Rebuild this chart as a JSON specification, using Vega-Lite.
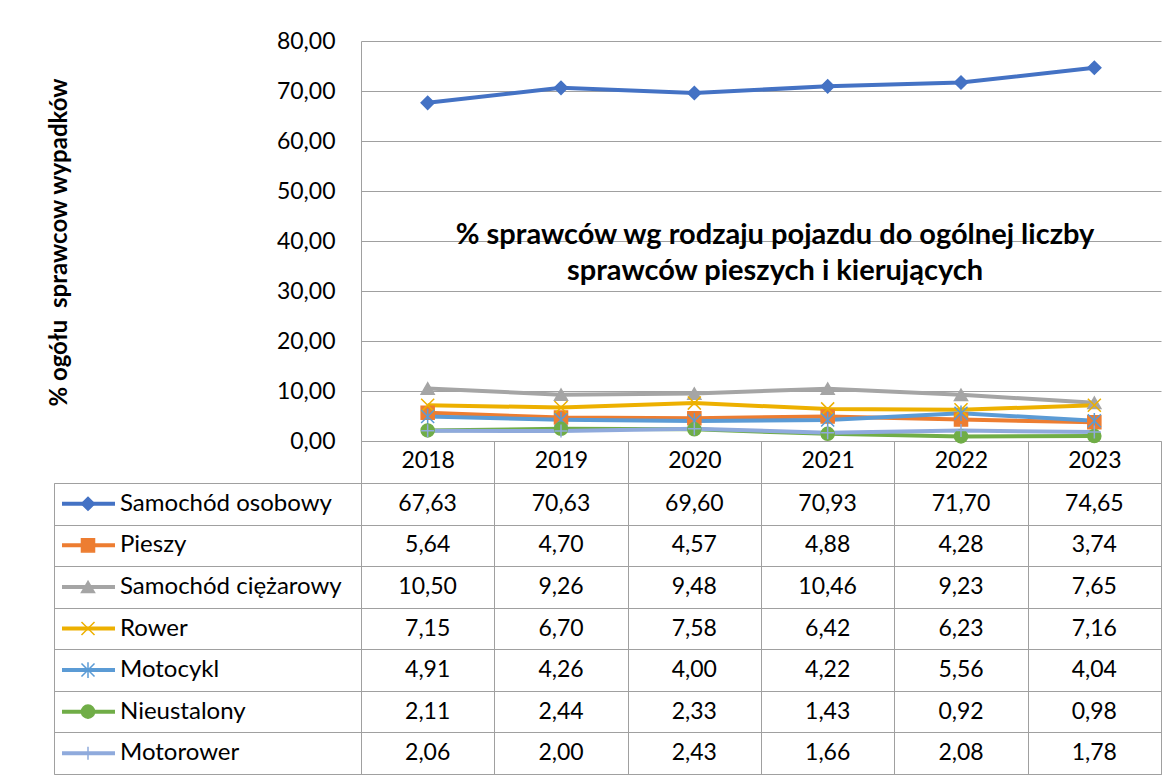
{
  "$schema": "https://vega.github.io/schema/vega-lite/v6.json",
  "padding": {"left": 47, "top": 30, "right": 0, "bottom": 0},
  "autosize": {"type": "pad"},
  "background": "white",
  "columns": 2,
  "bounds": "flush",
  "spacing": {"row": 42, "column": 0},
  "datasets": {
    "d": [
      {"series": "Samochód osobowy", "year": "2018", "value": 67.63},
      {"series": "Samochód osobowy", "year": "2019", "value": 70.63},
      {"series": "Samochód osobowy", "year": "2020", "value": 69.60},
      {"series": "Samochód osobowy", "year": "2021", "value": 70.93},
      {"series": "Samochód osobowy", "year": "2022", "value": 71.70},
      {"series": "Samochód osobowy", "year": "2023", "value": 74.65},
      {"series": "Pieszy", "year": "2018", "value": 5.64},
      {"series": "Pieszy", "year": "2019", "value": 4.70},
      {"series": "Pieszy", "year": "2020", "value": 4.57},
      {"series": "Pieszy", "year": "2021", "value": 4.88},
      {"series": "Pieszy", "year": "2022", "value": 4.28},
      {"series": "Pieszy", "year": "2023", "value": 3.74},
      {"series": "Samochód ciężarowy", "year": "2018", "value": 10.50},
      {"series": "Samochód ciężarowy", "year": "2019", "value": 9.26},
      {"series": "Samochód ciężarowy", "year": "2020", "value": 9.48},
      {"series": "Samochód ciężarowy", "year": "2021", "value": 10.46},
      {"series": "Samochód ciężarowy", "year": "2022", "value": 9.23},
      {"series": "Samochód ciężarowy", "year": "2023", "value": 7.65},
      {"series": "Rower", "year": "2018", "value": 7.15},
      {"series": "Rower", "year": "2019", "value": 6.70},
      {"series": "Rower", "year": "2020", "value": 7.58},
      {"series": "Rower", "year": "2021", "value": 6.42},
      {"series": "Rower", "year": "2022", "value": 6.23},
      {"series": "Rower", "year": "2023", "value": 7.16},
      {"series": "Motocykl", "year": "2018", "value": 4.91},
      {"series": "Motocykl", "year": "2019", "value": 4.26},
      {"series": "Motocykl", "year": "2020", "value": 4.00},
      {"series": "Motocykl", "year": "2021", "value": 4.22},
      {"series": "Motocykl", "year": "2022", "value": 5.56},
      {"series": "Motocykl", "year": "2023", "value": 4.04},
      {"series": "Nieustalony", "year": "2018", "value": 2.11},
      {"series": "Nieustalony", "year": "2019", "value": 2.44},
      {"series": "Nieustalony", "year": "2020", "value": 2.33},
      {"series": "Nieustalony", "year": "2021", "value": 1.43},
      {"series": "Nieustalony", "year": "2022", "value": 0.92},
      {"series": "Nieustalony", "year": "2023", "value": 0.98},
      {"series": "Motorower", "year": "2018", "value": 2.06},
      {"series": "Motorower", "year": "2019", "value": 2.00},
      {"series": "Motorower", "year": "2020", "value": 2.43},
      {"series": "Motorower", "year": "2021", "value": 1.66},
      {"series": "Motorower", "year": "2022", "value": 2.08},
      {"series": "Motorower", "year": "2023", "value": 1.78}
    ]
  },
  "concat": [
    {
      "width": 307,
      "height": 400,
      "data": {"values": [{}]},
      "mark": {"type": "text", "text": ""},
      "view": {"stroke": null}
    },
    {
      "width": 800,
      "height": 400,
      "data": {"name": "d"},
      "view": {"stroke": null},
      "title": {
        "text": ["% sprawców wg rodzaju pojazdu do ogólnej liczby", "sprawców pieszych i kierujących"],
        "fontSize": 29,
        "fontWeight": "bold",
        "color": "black",
        "anchor": "middle",
        "frame": "group",
        "offset": -256,
        "dx": 14,
        "lineHeight": 36
      },
      "encoding": {
        "x": {
          "field": "year", "type": "nominal",
          "scale": {"type": "band", "paddingInner": 0, "paddingOuter": 0},
          "axis": {
            "orient": "bottom", "title": null, "tickBand": "extent", "tickSize": 42,
            "tickColor": "#A0A0A0", "domainColor": "#A0A0A0", "labelFontSize": 23,
            "labelColor": "black", "labelPadding": -34, "labelAngle": 0, "grid": false
          }
        },
        "y": {
          "field": "value", "type": "quantitative",
          "scale": {"domain": [0, 80], "nice": false},
          "axis": {
            "values": [0, 10, 20, 30, 40, 50, 60, 70, 80], "format": ".2f",
            "labelFontSize": 23, "labelColor": "black", "labelPadding": 26,
            "ticks": false, "domainColor": "#A0A0A0", "gridColor": "#A0A0A0",
            "title": "% ogółu\u00a0 sprawcow wypadków", "titleFontSize": 24, "titleFontWeight": "bold",
            "titleColor": "black", "titleX": -302, "titleY": 201, "titleBaseline": "middle", "titleAlign": "center"
          }
        },
        "color": {
          "field": "series", "type": "nominal",
          "scale": {
            "domain": ["Samochód osobowy", "Pieszy", "Samochód ciężarowy", "Rower", "Motocykl", "Nieustalony", "Motorower"],
            "range": ["#4472C4", "#ED7D31", "#A5A5A5", "#EDB000", "#5B9BD5", "#70AD47", "#8FAADC"]
          },
          "legend": null
        }
      },
      "layer": [
        {"mark": {"type": "line", "strokeWidth": 4}},
        {
          "mark": {"type": "point", "filled": true, "size": 170, "opacity": 1, "strokeWidth": 1.5},
          "encoding": {
            "shape": {
              "field": "series", "type": "nominal",
              "scale": {
                "domain": ["Samochód osobowy", "Pieszy", "Samochód ciężarowy", "Rower", "Motocykl", "Nieustalony", "Motorower"],
                "range": ["diamond", "square", "triangle-up", "M-1,-1L1,1M-1,1L1,-1", "M-1,-1L1,1M-1,1L1,-1M0,-1.2L0,1.2", "circle", "M-1,0L1,0M0,-1L0,1"]
              },
              "legend": null
            },
            "stroke": {
              "field": "series", "type": "nominal",
              "scale": {
                "domain": ["Samochód osobowy", "Pieszy", "Samochód ciężarowy", "Rower", "Motocykl", "Nieustalony", "Motorower"],
                "range": ["#4472C4", "#ED7D31", "#A5A5A5", "#EDB000", "#5B9BD5", "#70AD47", "#8FAADC"]
              },
              "legend": null
            }
          }
        }
      ]
    },
    {
      "width": 307,
      "height": 291,
      "data": {"name": "d"},
      "transform": [{"filter": "datum.year === '2018'"}],
      "encoding": {
        "y": {
          "field": "series", "type": "nominal",
          "sort": ["Samochód osobowy", "Pieszy", "Samochód ciężarowy", "Rower", "Motocykl", "Nieustalony", "Motorower"],
          "scale": {"type": "band", "paddingInner": 0, "paddingOuter": 0},
          "axis": {"title": null, "labels": false, "ticks": false, "domain": false, "grid": true, "tickBand": "extent", "gridColor": "#A0A0A0"}
        },
        "color": {
          "field": "series", "type": "nominal",
          "scale": {
            "domain": ["Samochód osobowy", "Pieszy", "Samochód ciężarowy", "Rower", "Motocykl", "Nieustalony", "Motorower"],
            "range": ["#4472C4", "#ED7D31", "#A5A5A5", "#EDB000", "#5B9BD5", "#70AD47", "#8FAADC"]
          },
          "legend": null
        }
      },
      "layer": [
        {
          "mark": {"type": "rule", "strokeWidth": 4},
          "encoding": {
            "x": {"datum": 8, "type": "quantitative", "scale": {"domain": [0, 307], "nice": false, "zero": true}, "axis": null},
            "x2": {"datum": 61}
          }
        },
        {
          "mark": {"type": "point", "filled": true, "size": 170, "opacity": 1, "strokeWidth": 1.5},
          "encoding": {
            "x": {"datum": 34, "type": "quantitative"},
            "shape": {
              "field": "series", "type": "nominal",
              "scale": {
                "domain": ["Samochód osobowy", "Pieszy", "Samochód ciężarowy", "Rower", "Motocykl", "Nieustalony", "Motorower"],
                "range": ["diamond", "square", "triangle-up", "M-1,-1L1,1M-1,1L1,-1", "M-1,-1L1,1M-1,1L1,-1M0,-1.2L0,1.2", "circle", "M-1,0L1,0M0,-1L0,1"]
              },
              "legend": null
            },
            "stroke": {
              "field": "series", "type": "nominal",
              "scale": {
                "domain": ["Samochód osobowy", "Pieszy", "Samochód ciężarowy", "Rower", "Motocykl", "Nieustalony", "Motorower"],
                "range": ["#4472C4", "#ED7D31", "#A5A5A5", "#EDB000", "#5B9BD5", "#70AD47", "#8FAADC"]
              },
              "legend": null
            }
          }
        },
        {
          "mark": {"type": "text", "align": "left", "fontSize": 24, "color": "black"},
          "encoding": {
            "x": {"datum": 66, "type": "quantitative"},
            "text": {"field": "series", "type": "nominal"},
            "color": {"value": "black"}
          }
        }
      ]
    },
    {
      "width": 800,
      "height": 291,
      "data": {"name": "d"},
      "encoding": {
        "x": {
          "field": "year", "type": "nominal",
          "scale": {"type": "band", "paddingInner": 0, "paddingOuter": 0},
          "axis": {"title": null, "labels": false, "ticks": false, "domain": false, "grid": true, "tickBand": "extent", "gridColor": "#A0A0A0"}
        },
        "y": {
          "field": "series", "type": "nominal",
          "sort": ["Samochód osobowy", "Pieszy", "Samochód ciężarowy", "Rower", "Motocykl", "Nieustalony", "Motorower"],
          "scale": {"type": "band", "paddingInner": 0, "paddingOuter": 0},
          "axis": {"title": null, "labels": false, "ticks": false, "domain": false, "grid": true, "tickBand": "extent", "gridColor": "#A0A0A0"}
        },
        "text": {"field": "value", "type": "quantitative", "format": ".2f"}
      },
      "mark": {"type": "text", "fontSize": 23, "color": "black"}
    }
  ],
  "config": {
    "font": "Lato",
    "locale": {"number": {"decimal": ",", "thousands": " ", "grouping": [3], "currency": ["", " zł"]}},
    "view": {"stroke": "#A0A0A0", "strokeWidth": 1}
  }
}
